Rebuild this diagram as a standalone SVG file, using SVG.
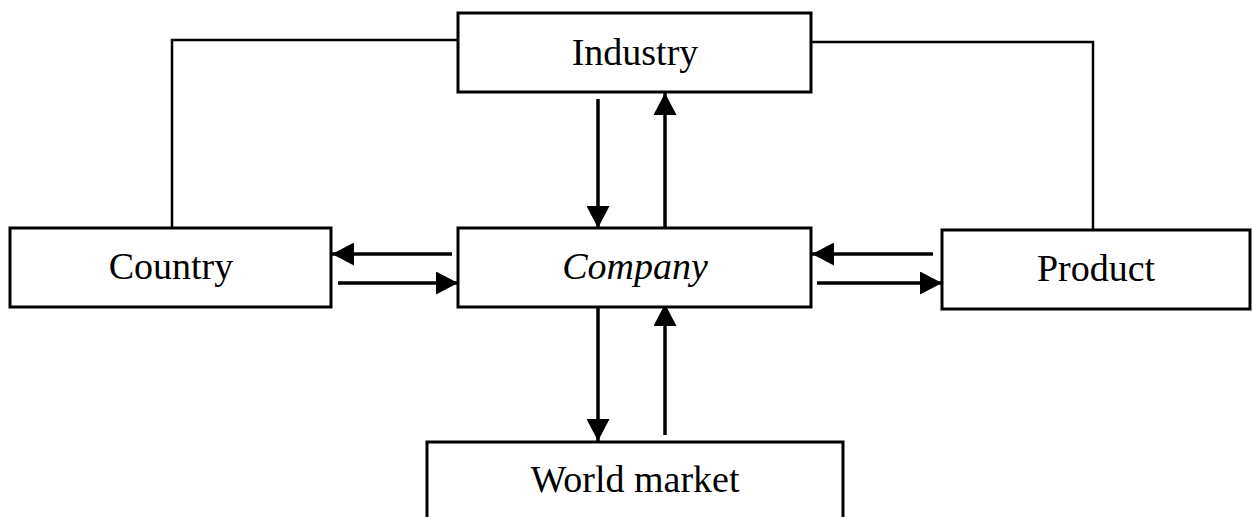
<svg xmlns="http://www.w3.org/2000/svg" width="1253" height="517" viewBox="0 0 1253 517">
<style>
.box{fill:#fff;stroke:#000;stroke-width:3}
.lbl{font-family:"Liberation Serif","Times New Roman",serif;font-size:38px;fill:#000;text-anchor:middle}
.link{fill:none;stroke:#000;stroke-width:2.5}
.arr{fill:none;stroke:#000;stroke-width:3.5;marker-end:url(#ah)}
</style>
<defs>
<marker id="ah" markerUnits="userSpaceOnUse" markerWidth="23" markerHeight="23" refX="22" refY="11.5" orient="auto">
<path d="M0,0 L22,11.5 L0,23 Z" fill="#000"/>
</marker>
</defs>
<rect width="1253" height="517" fill="#fff"/>
<g id="connectors">
<polyline class="link" points="458,40 172,40 172,228"/>
<polyline class="link" points="811,42 1093,42 1093,230"/>
<line class="arr" x1="598" y1="99" x2="598" y2="228"/>
<line class="arr" x1="665" y1="228" x2="665" y2="93"/>
<line class="arr" x1="452" y1="254" x2="332" y2="254"/>
<line class="arr" x1="338" y1="283" x2="458" y2="283"/>
<line class="arr" x1="933" y1="254" x2="812" y2="254"/>
<line class="arr" x1="817" y1="283" x2="942" y2="283"/>
<line class="arr" x1="598" y1="307" x2="598" y2="441"/>
<line class="arr" x1="665" y1="435" x2="665" y2="304"/>
</g>
<g id="industry">
<rect class="box" x="458" y="13" width="353" height="79"/>
<text class="lbl" x="635" y="65">Industry</text>
</g>
<g id="country">
<rect class="box" x="10" y="228" width="321" height="79"/>
<text class="lbl" x="171" y="279">Country</text>
</g>
<g id="company">
<rect class="box" x="458" y="228" width="353" height="79"/>
<text class="lbl" x="635" y="279" font-style="italic">Company</text>
</g>
<g id="product">
<rect class="box" x="942" y="230" width="308" height="79"/>
<text class="lbl" x="1096" y="281">Product</text>
</g>
<g id="world-market">
<rect class="box" x="427" y="442" width="416" height="90"/>
<text class="lbl" x="635" y="492">World market</text>
</g>
</svg>
